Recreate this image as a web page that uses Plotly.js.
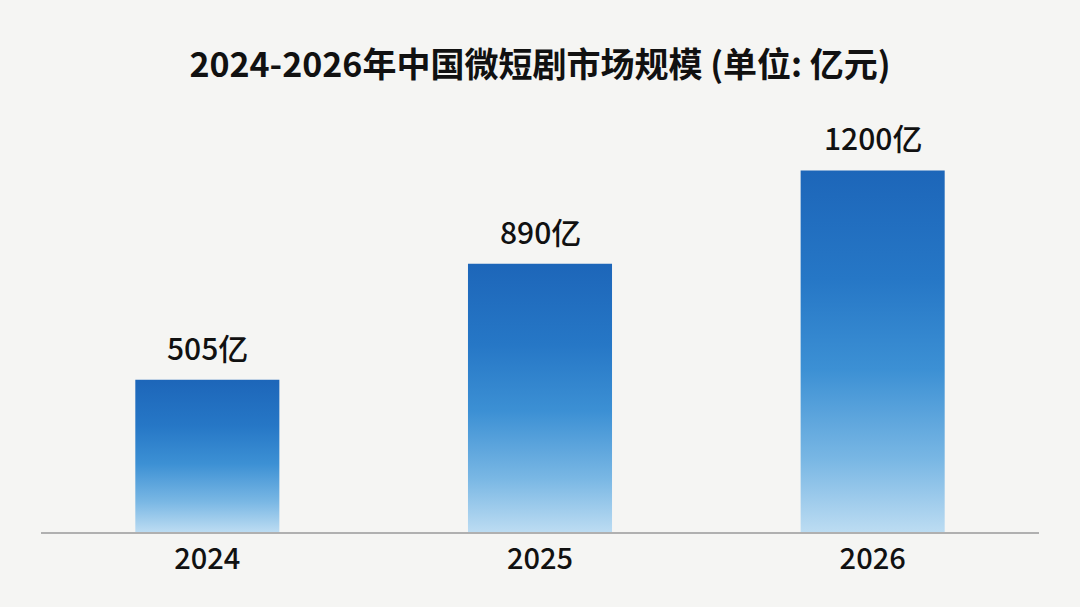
<!DOCTYPE html>
<html>
<head>
<meta charset="utf-8">
<script src="https://cdn.plot.ly/plotly-3.0.1.min.js"></script>
<style>
  html, body { margin: 0; padding: 0; background: #f5f5f3; }
  #chart { width: 1080px; height: 607px; }
</style>
</head>
<body>
<div id="chart"></div>
<script>
const years = ['2024', '2025', '2026'];
const marketSize = [505, 890, 1200];
const unitSuffix = '亿';
const chartTitle = '2024-2026年中国微短剧市场规模 (单位: 亿元)';

const FONT = '"Noto Sans CJK SC", "Noto Sans", sans-serif';

const trace = {
  type: 'bar',
  x: years,
  y: marketSize,
  marker: { color: '#3d8fd3', line: { width: 0 } },
  hoverinfo: 'none'
};

// category index positions on the category axis
const annotations = years.map((yr, i) => ({
  x: i,
  y: marketSize[i],
  xref: 'x',
  yref: 'y',
  text: marketSize[i] + unitSuffix,
  showarrow: false,
  yanchor: 'bottom',
  yshift: 9,
  font: { family: FONT, size: 30, color: '#111111', weight: 500 }
}));

const layout = {
  width: 1080,
  height: 607,
  paper_bgcolor: '#f5f5f3',
  plot_bgcolor: '#f5f5f3',
  margin: { l: 41, r: 41, t: 80, b: 75 },
  bargap: 0.567,
  showlegend: false,
  title: {
    text: chartTitle,
    x: 0.5,
    xanchor: 'center',
    y: 0.893,
    yanchor: 'middle',
    font: { family: FONT, size: 34, color: '#111111', weight: 700 }
  },
  xaxis: {
    type: 'category',
    categoryorder: 'array',
    categoryarray: years,
    range: [-0.5, years.length - 0.5],
    showline: true,
    linecolor: '#b0b0b0',
    linewidth: 2,
    showgrid: false,
    zeroline: false,
    ticks: '',
    ticklabelstandoff: 0,
    tickfont: { family: FONT, size: 29, color: '#111111', weight: 500 },
    fixedrange: true
  },
  yaxis: {
    range: [0, 1500],
    visible: false,
    showgrid: false,
    zeroline: false,
    fixedrange: true
  },
  annotations: annotations
};

Plotly.newPlot('chart', [trace], layout, { displayModeBar: false, staticPlot: true }).then(gd => {
  const svgNS = 'http://www.w3.org/2000/svg';
  const svg = gd.querySelector('svg.main-svg');
  let defs = svg.querySelector('defs');
  if (!defs) { defs = document.createElementNS(svgNS, 'defs'); svg.insertBefore(defs, svg.firstChild); }
  const grad = document.createElementNS(svgNS, 'linearGradient');
  grad.setAttribute('id', 'barGrad');
  grad.setAttribute('x1', '0'); grad.setAttribute('y1', '0');
  grad.setAttribute('x2', '0'); grad.setAttribute('y2', '1');
  [['0%', '#1d66b9'], ['30%', '#2677c6'], ['55%', '#3c90d4'], ['80%', '#79b7e4'], ['100%', '#bcdcf2']].forEach(([o, c]) => {
    const s = document.createElementNS(svgNS, 'stop');
    s.setAttribute('offset', o);
    s.setAttribute('stop-color', c);
    grad.appendChild(s);
  });
  defs.appendChild(grad);
  gd.querySelectorAll('.barlayer .point path').forEach(p => {
    p.style.fill = 'url(#barGrad)';
  });
});
</script>
</body>
</html>
